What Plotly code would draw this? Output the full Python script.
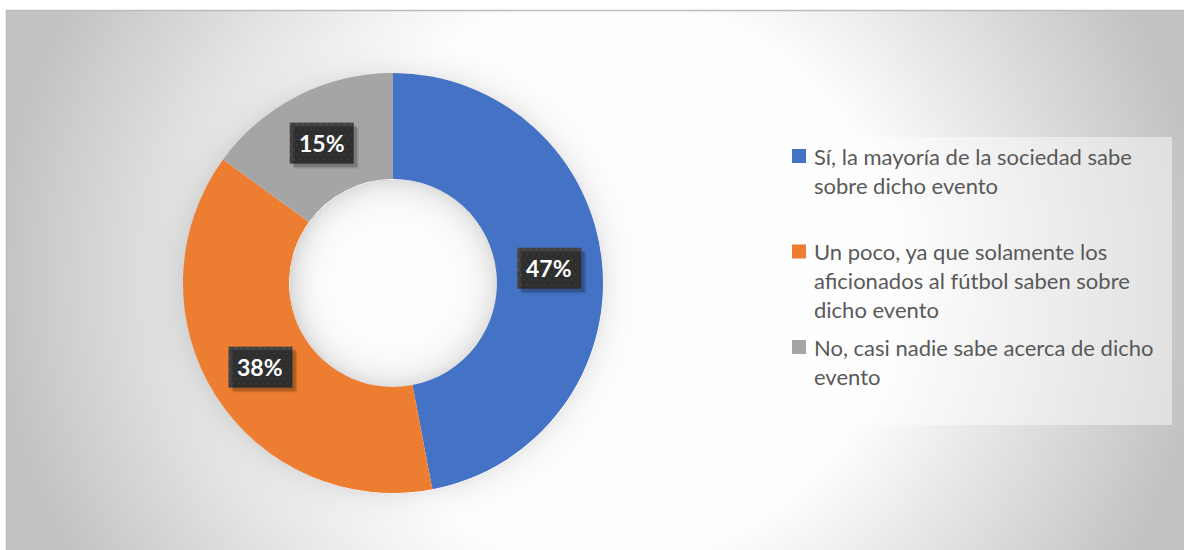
import numpy as np
import zlib, struct, base64
import plotly.graph_objects as go

# ---------------- data ----------------
label_lines = [
    ["Sí, la mayoría de la sociedad sabe", "sobre dicho evento"],
    ["Un poco, ya que solamente los", "aficionados al fútbol saben sobre", "dicho evento"],
    ["No, casi nadie sabe acerca de dicho", "evento"],
]
labels = [" ".join(l) for l in label_lines]
values = [47, 38, 15]
colors = ["#4472C4", "#ED7D31", "#A5A5A5"]

# ---------------- geometry (pixels) ----------------
W, H = 1184, 550
CX, CY = 393, 283          # donut centre
R = 210                    # outer radius
HOLE = 0.495               # hole fraction
AREA_X0, AREA_Y0 = 6, 10   # chart area top-left
BOX_W, BOX_H = 64, 41      # data label box


def px(x):
    return x / W


def py(y):
    return 1 - y / H


# ---------------- small PNG encoder ----------------
def png_uri(arr):
    h, w = arr.shape
    raw = b"".join(b"\x00" + arr[i].tobytes() for i in range(h))

    def chunk(tag, data):
        return (struct.pack(">I", len(data)) + tag + data +
                struct.pack(">I", zlib.crc32(tag + data) & 0xffffffff))

    png = (b"\x89PNG\r\n\x1a\n" +
           chunk(b"IHDR", struct.pack(">IIBBBBB", w, h, 8, 0, 0, 0, 0)) +
           chunk(b"IDAT", zlib.compress(raw, 9)) +
           chunk(b"IEND", b""))
    return "data:image/png;base64," + base64.b64encode(png).decode()


# background: radial gradient + soft donut shadow
iw, ih = W - AREA_X0, H - AREA_Y0
yy, xx = np.mgrid[0:ih, 0:iw].astype(float)
gx = xx + AREA_X0
gy = yy + AREA_Y0
d = np.sqrt((gx - 600) ** 2 + (1.04 * (gy - 280)) ** 2)
bg = 255 - 0.19 * np.clip(d - 287, 0, None)
bg = np.clip(bg, 194, 255)
rr = np.sqrt((gx - CX) ** 2 + (gy - CY) ** 2)
rh = R * HOLE
dark = np.where(rr > R, 20 * np.exp(-(rr - R) / 14.0), 0.0)
dark += np.where(rr < rh, 34 * np.exp(-(rh - rr) / 15.0), 0.0)
bg = bg - dark
bg_img = np.clip(bg, 0, 255).astype(np.uint8)

# dotted texture for data-label boxes
tex = np.full((BOX_H, BOX_W), 0x40, dtype=np.uint8)
for yy_ in range(1, BOX_H, 5):
    off = 0 if (yy_ // 5) % 2 == 0 else 3
    for xx_ in range(off, BOX_W, 6):
        tex[yy_:yy_ + 2, xx_:xx_ + 2] = 0x52
tex_uri = png_uri(tex)

fig = go.Figure()

fig.add_trace(go.Pie(
    labels=labels,
    values=values,
    marker=dict(colors=colors, line=dict(width=0)),
    hole=HOLE,
    sort=False,
    direction="clockwise",
    rotation=0,
    textinfo="none",
    showlegend=False,
    hoverinfo="label+percent",
    domain=dict(x=[px(CX - R), px(CX + R)], y=[py(CY + R), py(CY - R)]),
))

annotations = []
shapes = []
images = [dict(source=png_uri(bg_img), xref="paper", yref="paper",
               x=px(AREA_X0), y=py(AREA_Y0), sizex=iw / W, sizey=ih / H,
               xanchor="left", yanchor="top", sizing="stretch", layer="below")]

# data labels with dark textured boxes
total = sum(values)
cum = 0
r_mid = R * (1 + HOLE) / 2
for v in values:
    mid = (cum + v / 2) / total
    cum += v
    ang = mid * 2 * np.pi
    lx = CX + r_mid * np.sin(ang)
    ly = CY - r_mid * np.cos(ang)
    # soft shadow
    for k, a in ((5, 0.08), (4, 0.10), (3, 0.12)):
        shapes.append(dict(type="rect", xref="paper", yref="paper",
                           x0=px(lx - BOX_W / 2 + k), x1=px(lx + BOX_W / 2 + k),
                           y0=py(ly + BOX_H / 2 + k), y1=py(ly - BOX_H / 2 + k),
                           fillcolor=f"rgba(0,0,0,{a})", line=dict(width=0),
                           layer="above"))
    images.append(dict(source=tex_uri, xref="paper", yref="paper",
                       x=px(lx), y=py(ly), sizex=BOX_W / W, sizey=BOX_H / H,
                       xanchor="center", yanchor="middle", sizing="stretch",
                       layer="above"))
    annotations.append(dict(
        x=px(lx), y=py(ly), xref="paper", yref="paper", showarrow=False,
        xanchor="center", yanchor="middle",
        text=f"<b>{round(v / total * 100)}%</b>",
        font=dict(family="Lato", size=23, color="#FFFFFF")))

# legend box
shapes.append(dict(type="rect", xref="paper", yref="paper",
                   x0=px(781), x1=px(1172), y0=py(425), y1=py(137),
                   fillcolor="rgba(255,255,255,0.45)", line=dict(width=0),
                   layer="below"))

LEG_X = 792
LEG_Y0 = 156
ITEM_STEP = 95.5
LINE_STEP = 29
for i, (lines, c) in enumerate(zip(label_lines, colors)):
    y0 = LEG_Y0 + i * ITEM_STEP
    shapes.append(dict(type="rect", xref="paper", yref="paper",
                       x0=px(LEG_X), x1=px(LEG_X + 14),
                       y0=py(y0 + 7), y1=py(y0 - 7),
                       fillcolor=c, line=dict(width=0)))
    for j, t in enumerate(lines):
        annotations.append(dict(
            x=px(LEG_X + 20), y=py(y0 + j * LINE_STEP), xref="paper", yref="paper",
            xanchor="left", yanchor="middle", showarrow=False, text=t,
            font=dict(family="Lato", size=22, color="#595959")))

# chart area border (top & left)
shapes.append(dict(type="rect", xref="paper", yref="paper",
                   x0=px(AREA_X0 + 0.5), y0=py(AREA_Y0 + 0.5), x1=px(W + 10), y1=py(H + 10),
                   line=dict(color="#BDBDBD", width=1.5), fillcolor="rgba(0,0,0,0)",
                   layer="above"))

fig.update_layout(
    width=W, height=H,
    margin=dict(l=0, r=0, t=0, b=0),
    paper_bgcolor="#FFFFFF",
    plot_bgcolor="rgba(0,0,0,0)",
    images=images,
    shapes=shapes,
    annotations=annotations,
    xaxis=dict(visible=False, range=[0, 1]), yaxis=dict(visible=False, range=[0, 1]),
)

fig.write_html("out.html", config={"displayModeBar": False},
               post_script="document.body.style.margin='0';document.body.style.overflow='hidden';")
